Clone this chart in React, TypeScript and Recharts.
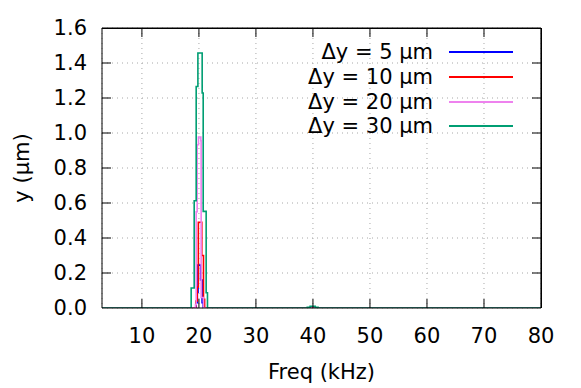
import { LineChart, Line, XAxis, YAxis, CartesianGrid, ReferenceLine } from 'recharts';

const xTicks = [10, 20, 30, 40, 50, 60, 70, 80];
const yTicks = [0, 0.2, 0.4, 0.6, 0.8, 1.0, 1.2, 1.4, 1.6];
const innerXTicks = [10, 20, 30, 40, 50, 60, 70];
const innerYTicks = [0.2, 0.4, 0.6, 0.8, 1.0, 1.2, 1.4];

// spectra (kHz, um), drawn as steps
const freq5 = [3, 19.52, 19.72, 19.85, 20.3, 20.55, 20.75, 80];
const amp5 = [0, 0.03, 0.09, 0.245, 0.16, 0.03, 0, 0];

const freq10 = [3, 19.45, 19.7, 19.9, 20.5, 20.8, 21.0, 80];
const amp10 = [0, 0.04, 0.12, 0.49, 0.3, 0.05, 0, 0];

const freq20 = [3, 19.4, 19.52, 19.69, 19.92, 20.34, 20.39, 20.8, 80];
const amp20 = [0, 0.02, 0.55, 0.933, 0.977, 0.956, 0.06, 0, 0];

const freq30 = [3, 18.64, 19.17, 19.52, 19.82, 20.57, 20.75, 21.27, 21.5, 39.0, 39.5, 40.4, 40.9, 80];
const amp30 = [0, 0.114, 0.613, 1.266, 1.457, 1.229, 0.552, 0.087, 0, 0.004, 0.01, 0.004, 0, 0];

const seriesLabels = ['Δy = 5 μm', 'Δy = 10 μm', 'Δy = 20 μm', 'Δy = 30 μm'];
const seriesColors = ['#0000ff', '#ff0000', '#ee82ee', '#009e73'];
const seriesFreq = [freq5, freq10, freq20, freq30];
const seriesAmp = [amp5, amp10, amp20, amp30];

const X_DOMAIN = [3, 80];
const Y_DOMAIN = [0, 1.6];

const W = 581;
const H = 388;
const M = { top: 28, right: 40, left: 0, bottom: 0 };
const Y_AXIS_W = 102;
const X_AXIS_H = 80;
const FONT = "'DejaVu Sans', sans-serif";
const FS = 21;

// plot box, used for the frame and for the 9px inward tick length
const plotW = W - M.left - M.right - Y_AXIS_W;
const plotH = H - M.top - M.bottom - X_AXIS_H;
const tickDX = (9 * (X_DOMAIN[1] - X_DOMAIN[0])) / plotW;
const tickDY = (9 * (Y_DOMAIN[1] - Y_DOMAIN[0])) / plotH;

export default function App() {
  const series = seriesLabels.map((label, i) => ({
    label,
    color: seriesColors[i],
    data: seriesFreq[i].map((f, j) => ({ f, v: seriesAmp[i][j] })),
  }));

  return (
    <div style={{ position: 'relative', width: W, height: H, fontFamily: FONT }}>
      <style>{'body{margin:0}'}</style>
      <LineChart width={W} height={H} margin={M}>
        <CartesianGrid stroke="#a8a8a8" strokeDasharray="1 4" />
        <XAxis
          dataKey="f"
          type="number"
          domain={X_DOMAIN}
          ticks={xTicks}
          allowDataOverflow
          height={X_AXIS_H}
          tickSize={0}
          tickLine={false}
          tickMargin={20}
          stroke="#000"
          tick={{ fontSize: FS, fill: '#000', fontFamily: FONT }}
          label={{ value: 'Freq (kHz)', position: 'insideBottom', offset: 9, fontSize: FS, fill: '#000', fontFamily: FONT }}
        />
        <YAxis
          type="number"
          domain={Y_DOMAIN}
          ticks={yTicks}
          allowDataOverflow
          width={Y_AXIS_W}
          tickSize={0}
          tickLine={false}
          tickMargin={15}
          stroke="#000"
          tickFormatter={(v) => Number(v).toFixed(1)}
          tick={{ fontSize: FS, fill: '#000', fontFamily: FONT }}
          label={{
            value: 'y (μm)',
            angle: -90,
            position: 'insideLeft',
            offset: 22,
            fontSize: FS,
            fill: '#000',
            fontFamily: FONT,
            style: { textAnchor: 'middle' },
          }}
        />
        {series.map((s) => (
          <Line
            key={s.label}
            data={s.data}
            dataKey="v"
            type="stepAfter"
            stroke={s.color}
            strokeWidth={1.6}
            dot={false}
            activeDot={false}
            isAnimationActive={false}
          />
        ))}
        <ReferenceLine y={Y_DOMAIN[1]} stroke="#000" strokeWidth={1.2} />
        <ReferenceLine x={X_DOMAIN[1]} stroke="#000" strokeWidth={1.2} />
        {innerXTicks.map((t) => (
          <ReferenceLine
            key={`xb${t}`}
            segment={[{ x: t, y: Y_DOMAIN[0] }, { x: t, y: Y_DOMAIN[0] + tickDY }]}
            stroke="#000"
          />
        ))}
        {innerXTicks.map((t) => (
          <ReferenceLine
            key={`xt${t}`}
            segment={[{ x: t, y: Y_DOMAIN[1] - tickDY }, { x: t, y: Y_DOMAIN[1] }]}
            stroke="#000"
          />
        ))}
        {innerYTicks.map((t) => (
          <ReferenceLine
            key={`yl${t}`}
            segment={[{ x: X_DOMAIN[0], y: t }, { x: X_DOMAIN[0] + tickDX, y: t }]}
            stroke="#000"
          />
        ))}
        {innerYTicks.map((t) => (
          <ReferenceLine
            key={`yr${t}`}
            segment={[{ x: X_DOMAIN[1] - tickDX, y: t }, { x: X_DOMAIN[1], y: t }]}
            stroke="#000"
          />
        ))}
      </LineChart>
      {/* top and right edges of the plot frame */}
      <div
        style={{
          position: 'absolute',
          left: M.left + Y_AXIS_W,
          top: M.top - 0.5,
          width: plotW + 0.5,
          height: plotH,
          boxSizing: 'border-box',
          borderTop: '1px solid #000',
          borderRight: '1px solid #000',
          pointerEvents: 'none',
        }}
      />
      <div style={{ position: 'absolute', left: 250, top: 40, fontSize: FS, color: '#000' }}>
        {series.map((s) => (
          <div key={s.label} style={{ display: 'flex', alignItems: 'center', height: 24.7 }}>
            <span style={{ width: 183, textAlign: 'right', whiteSpace: 'nowrap' }}>{s.label}</span>
            <svg width={80} height={10} style={{ marginLeft: 16 }}>
              <line x1={0} x2={64} y1={5} y2={5} stroke={s.color} strokeWidth={1.8} />
            </svg>
          </div>
        ))}
      </div>
    </div>
  );
}
